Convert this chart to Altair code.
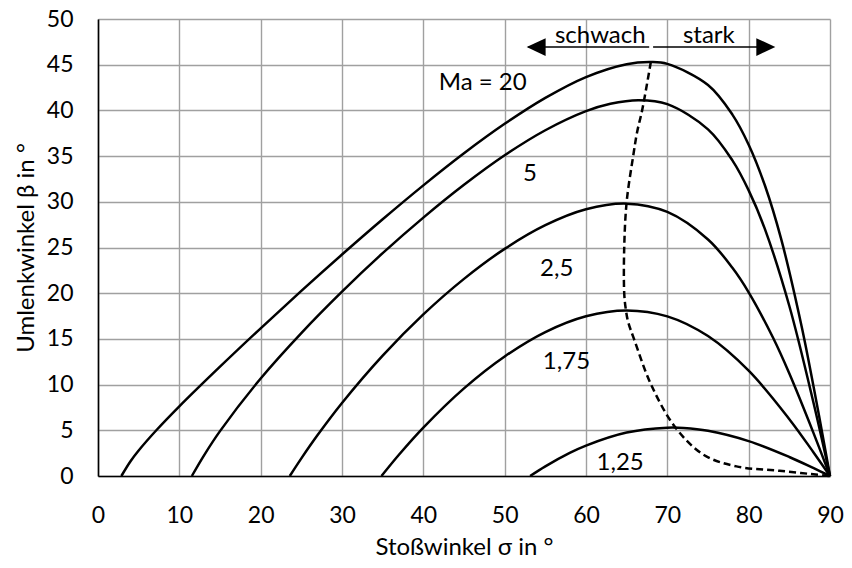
import altair as alt
import pandas as pd

# --- data (sigma = shock angle, beta = deflection angle) ---
sigma_ma20 = [2.87, 4, 5, 7.2, 10, 15, 20, 25, 30, 35, 40, 45, 50, 55, 60, 65, 68, 70, 75, 78, 80, 82, 84, 86.5, 88, 89, 90]
beta_ma20 = [0, 1.62, 2.79, 5.03, 7.62, 11.96, 16.16, 20.25, 24.23, 28.09, 31.8, 35.31, 38.53, 41.37, 43.65, 45.06, 45.29, 45.09, 42.78, 39.54, 36.25, 31.78, 25.91, 16.42, 9.69, 4.91, 0]

sigma_ma5 = [11.54, 13, 15, 20, 25, 30, 35, 40, 45, 50, 55, 60, 63, 66.5, 70, 75, 78, 80, 82, 85, 88, 90]
beta_ma5 = [0, 2.21, 4.91, 10.67, 15.64, 20.17, 24.38, 28.27, 31.86, 35.09, 37.83, 39.92, 40.73, 41.12, 40.68, 37.93, 34.53, 31.25, 27.01, 18.6, 7.9, 0]

sigma_ma25 = [23.58, 25, 27, 30, 35, 40, 45, 50, 55, 60, 65, 70, 75, 78, 80, 83, 85, 88, 90]
beta_ma25 = [0, 1.93, 4.48, 7.99, 13.17, 17.68, 21.57, 24.85, 27.44, 29.18, 29.8, 28.89, 25.88, 22.78, 20.1, 15.12, 11.21, 4.64, 0]

sigma_ma175 = [34.85, 37, 40, 45, 50, 55, 60, 65, 70, 75, 80, 85, 88, 90]
beta_ma175 = [0, 2.33, 5.3, 9.59, 13.08, 15.75, 17.48, 18.12, 17.47, 15.31, 11.52, 6.22, 2.55, 0]

sigma_ma125 = [53.13, 55, 58, 60, 65, 70, 72, 75, 80, 85, 88, 90]
beta_ma125 = [0, 1.06, 2.53, 3.33, 4.75, 5.28, 5.25, 4.95, 3.82, 2.08, 0.85, 0]

sigma_dash = [67.97, 66.9, 66.3, 65.8, 65.0, 64.7, 64.7, 64.9, 65.2, 65.9, 68.0, 71.0, 74.5, 78.5, 83.8, 90]
beta_dash = [45.3, 40, 37.7, 35, 30, 25, 20, 18.2, 16.8, 15, 10, 5.3, 2.3, 1.05, 0.57, 0]

curve_names = ["20", "5", "2,5", "1,75", "1,25"]
label_texts = ["Ma = 20", "5", "2,5", "1,75", "1,25"]
label_x = [41.9, 53.1, 56.4, 57.6, 64.2]
label_y = [42.2, 32.3, 21.9, 11.7, 0.63]
label_align = ["left", "center", "center", "center", "center"]

header_texts = ["schwach", "stark"]
header_x = [61.76, 75.1]
header_y = [47.37, 47.37]

arrow_x1 = [52.9, 68.25]
arrow_x2 = [67.77, 81.5]
arrow_y = [46.93, 46.93]
head_x = [53.87, 82.11]
head_shape = ["M1,-0.93L-1,0L1,0.93Z", "M-1,-0.93L1,0L-1,0.93Z"]

x_ticks = [0, 10, 20, 30, 40, 50, 60, 70, 80, 90]
y_ticks = [0, 5, 10, 15, 20, 25, 30, 35, 40, 45, 50]

FONT = "Lato"
FS = 23
FS_TXT = 24

rows = []
for name, xs, ys in zip(curve_names,
                        [sigma_ma20, sigma_ma5, sigma_ma25, sigma_ma175, sigma_ma125],
                        [beta_ma20, beta_ma5, beta_ma25, beta_ma175, beta_ma125]):
    for i, (a, b) in enumerate(zip(xs, ys)):
        rows.append({"sigma": a, "beta": b, "ma": name, "ord": i})
curves_df = pd.DataFrame(rows)
dash_df = pd.DataFrame({"sigma": sigma_dash, "beta": beta_dash, "ord": list(range(len(sigma_dash)))})
labels_df = pd.DataFrame({"t": label_texts, "x": label_x, "y": label_y, "al": label_align})
header_df = pd.DataFrame({"t": header_texts, "x": header_x, "y": header_y})
arrow_df = pd.DataFrame({"x1": arrow_x1, "x2": arrow_x2, "y": arrow_y})
head_df = pd.DataFrame({"x": head_x, "y": arrow_y, "shape": head_shape})

xs = alt.Scale(domain=[0, 90], nice=False, zero=False)
ys = alt.Scale(domain=[0, 50], nice=False, zero=False)

x_axis = alt.Axis(values=x_ticks, title="Stoßwinkel σ in °", labelBaseline="alphabetic",
                  labelPadding=46, titleBaseline="alphabetic", titleY=78)
y_axis = alt.Axis(values=y_ticks, title="Umlenkwinkel β in °", labelBaseline="middle",
                  labelPadding=25, titleBaseline="alphabetic", titleX=-65)

curves = alt.Chart(curves_df).mark_line(color="black", strokeWidth=2.5, interpolate="catmull-rom").encode(
    x=alt.X("sigma:Q", scale=xs, axis=x_axis),
    y=alt.Y("beta:Q", scale=ys, axis=y_axis),
    detail="ma:N",
    order="ord:Q",
)

dashed = alt.Chart(dash_df).mark_line(color="black", strokeWidth=2.5, strokeDash=[7, 4],
                                      interpolate="catmull-rom").encode(
    x=alt.X("sigma:Q", scale=xs),
    y=alt.Y("beta:Q", scale=ys),
    order="ord:Q",
)

labels_left = alt.Chart(labels_df[labels_df["al"] == "left"]).mark_text(
    font=FONT, fontSize=FS_TXT, color="black", align="left", baseline="alphabetic").encode(
    x=alt.X("x:Q", scale=xs), y=alt.Y("y:Q", scale=ys), text="t:N")
labels_center = alt.Chart(labels_df[labels_df["al"] == "center"]).mark_text(
    font=FONT, fontSize=FS_TXT, color="black", align="center", baseline="alphabetic").encode(
    x=alt.X("x:Q", scale=xs), y=alt.Y("y:Q", scale=ys), text="t:N")

header = alt.Chart(header_df).mark_text(
    font=FONT, fontSize=FS_TXT, color="black", align="center", baseline="alphabetic").encode(
    x=alt.X("x:Q", scale=xs), y=alt.Y("y:Q", scale=ys), text="t:N")

arrows = alt.Chart(arrow_df).mark_rule(color="black", strokeWidth=1.5).encode(
    x=alt.X("x1:Q", scale=xs), x2="x2:Q", y=alt.Y("y:Q", scale=ys))

heads = alt.Chart(head_df).mark_point(filled=True, color="black", size=361, opacity=1).encode(
    x=alt.X("x:Q", scale=xs), y=alt.Y("y:Q", scale=ys),
    shape=alt.Shape("shape:N", scale=None))

chart = alt.layer(curves, dashed, labels_left, labels_center, header, arrows, heads).properties(
    width=732, height=457,
    autosize=alt.AutoSizeParams(type="none"),
    padding={"left": 90, "top": 11, "right": 14, "bottom": 84},
).configure_view(stroke=None).configure_axis(
    grid=True, gridColor="#a0a0a0", gridWidth=1.4,
    domainColor="black", domainWidth=1.6,
    ticks=False, tickSize=0,
    labelFont=FONT, labelFontSize=FS, labelColor="black",
    titleFont=FONT, titleFontSize=FS_TXT, titleFontWeight="normal", titleColor="black",
    labelOverlap=False, labelFlush=False,
)

chart.save("out.html", embed_options={"renderer": "svg", "actions": False})
